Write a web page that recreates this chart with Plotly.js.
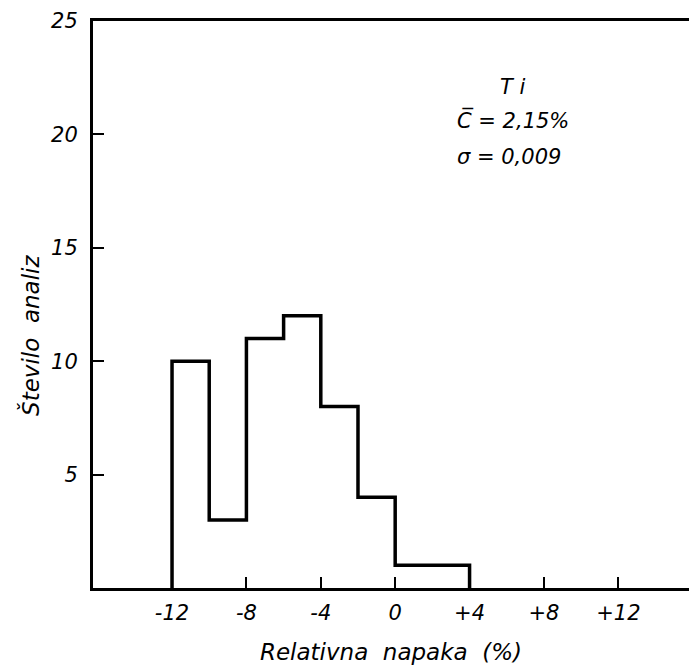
<!DOCTYPE html>
<html>
<head>
<meta charset="utf-8">
<script src="https://cdn.plot.ly/plotly-3.0.1.min.js"></script>
<style>html,body{margin:0;padding:0;background:#fff}#chart{width:689px;height:670px}</style>
</head>
<body>
<div id="chart"></div>
<script>
// Bin edges (relative error, %) and counts per bin
const binEdges = [-12, -10, -8, -6, -4, -2, 0, 2, 4];
const counts = [10, 3, 11, 12, 8, 4, 1, 1];
const xTickVals = [-12, -8, -4, 0, 4, 8, 12];
const xTickText = ["-12", "-8", "-4", "0", "+4", "+8", "+12"];
const yTickVals = [5, 10, 15, 20, 25];
const yTickText = ["5", "10", "15", "20", "25"];
const labels = {
  x: "Relativna  napaka  (%)",
  y: "Število  analiz",
  element: "T i",
  mean: "C\u0305 = 2,15%",
  sigma: "σ = 0,009"
};

// step outline built from the bins
const sx = [binEdges[0]].concat(binEdges);
const sy = [0].concat(counts).concat([0]);

const font = {family: "DejaVu Sans", size: 21, color: "#000", style: "italic"};
const titleFont = Object.assign({}, font, {size: 23});
const noteFont = Object.assign({}, font, {size: 21});

const trace = {
  x: sx, y: sy, type: "scatter", mode: "lines",
  line: {shape: "hv", color: "#000", width: 3.5},
  hoverinfo: "skip", showlegend: false
};

const layout = {
  width: 689, height: 670,
  margin: {l: 93, r: 0, t: 21, b: 82},
  paper_bgcolor: "#fff", plot_bgcolor: "#fff",
  font: font,
  xaxis: {
    range: [-16.25, 15.8], showgrid: false, zeroline: false,
    showline: true, linecolor: "#000", linewidth: 3, mirror: true,
    ticks: "inside", ticklen: 11, tickwidth: 2, tickcolor: "#000",
    tickvals: xTickVals, ticktext: xTickText,
    tickfont: font, ticklabelstandoff: 4,
    title: {text: labels.x, font: titleFont, standoff: 20}
  },
  yaxis: {
    range: [0, 25], showgrid: false, zeroline: false,
    showline: true, linecolor: "#000", linewidth: 3,
    ticks: "inside", ticklen: 11, tickwidth: 2, tickcolor: "#000",
    tickvals: yTickVals, ticktext: yTickText,
    tickfont: font, ticklabelstandoff: 8
  },
  annotations: [
    {xref: "paper", yref: "paper", x: -0.106, y: 0.446, text: labels.y, textangle: -90,
     showarrow: false, font: titleFont, xanchor: "center", yanchor: "middle"},
    {xref: "paper", yref: "paper", x: 0.705, y: 0.884, text: labels.element,
     showarrow: false, font: noteFont, xanchor: "center", yanchor: "middle"},
    {xref: "paper", yref: "paper", x: 0.607, y: 0.825, text: labels.mean,
     showarrow: false, font: noteFont, xanchor: "left", yanchor: "middle"},
    {xref: "paper", yref: "paper", x: 0.607, y: 0.760, text: labels.sigma,
     showarrow: false, font: noteFont, xanchor: "left", yanchor: "middle"}
  ]
};

Plotly.newPlot("chart", [trace], layout, {displayModeBar: false, staticPlot: true});
</script>
</body>
</html>
